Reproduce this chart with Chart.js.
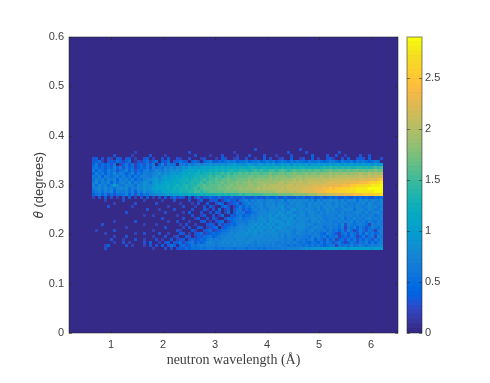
<!DOCTYPE html>
<html>
<head>
<meta charset="utf-8">
<style>
  html, body { margin: 0; background: #fff; }
  canvas { position: absolute; left: 0; top: 0; }
</style>
<script src="https://cdn.jsdelivr.net/npm/chart.js@4"></script>
</head>
<body>
<canvas id="map" width="490" height="383"></canvas>
<canvas id="bar" width="490" height="383"></canvas>
<script>
const xTicks = [1, 2, 3, 4, 5, 6];
const yTicks = [0, 0.1, 0.2, 0.3, 0.4, 0.5, 0.6];
const barTicks = [0, 0.5, 1, 1.5, 2, 2.5];
const xRange = [0.1923, 6.519];
const yRange = [0, 0.6];
const barMax = 2.9;

// bin centres of the first cell, and bin widths
const firstWavelength = 0.6635;
const wavelengthStep = 3 / 52;
const firstTheta = 0.37196;
const thetaStep = 0.6 * 3 / 296;

// one string per theta row, top row first. each char is intensity in tenths, base 36 (a = 1.0, t = 2.9)
const intensityRows = [
  "0000000000 0000000000 0000000000 0000000000 0000000000 0000300000 0000000003 0000000000 0000000000 0000000",
  "0000000000 0000200000 0000000000 0030000000 0000000200 0000000000 0000030000 0300000000 0030000000 0000000",
  "0000000300 0002000003 0000200000 0000300002 0003000020 0030000300 0200003000 0004000030 0300200003 0030000",
  "3403032043 0340200340 2003040032 0030002300 0204300230 0300200403 0023004002 3004020034 2003040034 3040003",
  "3452034354 2450132452 4504350345 4304530456 4354565645 5645564565 6456546565 5465565456 6546556465 6545650",
  "4635453602 4635245364 6047365506 6576787889 8989899a99 89a989a8a9 a89a9a8a9a 9a8a9a9a9a 9aa9a9a9a9 a9a8a9a",
  "5645354746 3645245463 7565768687 98a9a9abab bcbcbcbcbc cbcdcbcdcc cdcdcdcdcd dcdcdcdede dedededdee dedefef",
  "6465475635 5746354675 6876879898 aabbacbcbd cdcdcdedde eedefefeef fefgfefgff gfgfggfggh gghgghghhg hghhihh",
  "4756465857 6457465766 7897989a9a bbcbcdcdde deefefeffg fgfgggfggh gghhghhihh hihiihiiij ijijjijjjk jjkjkjk",
  "6574765675 7564657776 8979a9aaba ccbcddedef effefgfggg gghhghhhhi hiiiihiijj ijjjjjkjjk jkkkkkkkkl kklkllm",
  "5767576847 6757465788 9a89aaabbc cdcdedefef fgfgghgghh hhihiiiiij ijijjjjkjk jkkkkkklkl lllllmlmlm mmmnmop",
  "6857684757 7685767986 9a9abbbcbc dcdedefefg fgghghhhih iijiijjjjj jjkkjkkkkl kkllllllmm mmmmnmnnno oopqqrs",
  "7586757a86 6877587988 9babbcbcdc dedeeffgfg gghghhihii iijjijjkjk kkkkkllkll lllmmmmnmn nnnoooppqq qrrssst",
  "6786867578 7857687989 aabbbcbdcd dedefefggg gghhhihiij ijjjjkjkkk kkklklllll mmmmnnnoop oppqqqrrss ssttttt",
  "5675768476 6757476978 9a9bbbcccd ddeeffeffg gggghhhhhi iiiijjjjjj jkkkkklkll mmmmnnoopp ppqqqrrrss ssssttt",
  "4564635355 5746364657 78899a9aab bbcbccdcdd ddededeeef effffffggg gghhhhhiii iijjjkkkll lmmmnnnooo ppppqqr",
  "2030403020 3040203040 2030403524 3040352435 4353435343 5343534354 4534534354 5345345345 4534543545 4543545",
  "0000200000 3000000200 0002000300 0030024003 3402453425 6757687678 7678587878 7868586878 7868687858 7868768",
  "0000000200 0000300000 0300000002 0002030040 0354023452 5676778687 8687768788 7687878687 6877867677 8687678",
  "0000030000 0002000000 0000020000 3000200304 2004530246 4657678678 8789687788 8687786878 7868677687 6787867",
  "0000000000 0000000030 0020000300 0003000420 3050240356 3546768768 8879768978 7887686787 8667878578 7687668",
  "0000000000 0300000000 0000300000 2040003003 0430250465 6345677878 8798798678 8688768687 7768676787 6867786",
  "0000000000 0000000200 2000000020 0003002400 3025004356 4557678789 7989878978 8678787677 7687677676 7677567",
  "0000000000 0000000000 0003000000 3000240030 4200354567 5667689879 9878989688 7878878667 7768576867 6786767",
  "0000000200 0000300000 0000020030 0020003402 0345024566 6678788979 8998798878 8768787767 6676768576 7576576",
  "0003000000 0000000200 0200000002 0300200034 3052435467 7688989798 9789898788 8787677677 6758376567 6527676",
  "0000000000 0200000000 0000300000 2030043023 4503456678 7889798989 7998878788 8767877567 6657265746 5357657",
  "0200000300 0000000000 2000000032 0004200345 2345567778 8798989788 9788887678 7678676757 5646375247 5365267",
  "0000200000 0000200300 0030020004 3020345234 5456678788 8988978888 8878787687 7676765476 5325646536 4756457",
  "0000000200 0300000000 2000300230 0430243556 4567787888 8878888787 8878687767 6657675646 5624536524 6356276",
  "0000003000 2000300200 0302004023 4035345467 6767878788 8788787878 7877677576 6567465364 6245364635 4653657",
  "0000000200 3020000304 0020340345 2456354578 7678787878 7887687777 7667676765 6546546465 3564246536 5746467",
  "0000240000 0302000203 0304035404 5346567677 7677777877 7767677676 7676656566 5656565456 6265657567 6567678",
  "0000300000 0000000000 2000303034 3545556566 6565666566 6566656566 6667677778 8989999a9a aa9aa9aaaa aaa9aaa"
];

const parula = [
  [.2081,.1663,.5292],[.2116,.1898,.5777],[.2123,.2138,.6270],[.2081,.2386,.6771],
  [.1959,.2645,.7279],[.1707,.2919,.7792],[.1253,.3242,.8303],[.0591,.3598,.8683],
  [.0117,.3875,.8820],[.0060,.4086,.8828],[.0165,.4266,.8786],[.0329,.4430,.8720],
  [.0498,.4586,.8641],[.0629,.4737,.8554],[.0723,.4887,.8467],[.0779,.5040,.8384],
  [.0793,.5200,.8312],[.0749,.5375,.8263],[.0641,.5570,.8240],[.0488,.5772,.8228],
  [.0343,.5966,.8199],[.0265,.6137,.8135],[.0239,.6287,.8038],[.0231,.6418,.7913],
  [.0228,.6535,.7768],[.0267,.6642,.7607],[.0384,.6743,.7436],[.0590,.6838,.7254],
  [.0843,.6928,.7062],[.1133,.7015,.6859],[.1453,.7098,.6646],[.1801,.7177,.6424],
  [.2178,.7250,.6193],[.2586,.7317,.5954],[.3022,.7376,.5712],[.3482,.7424,.5473],
  [.3953,.7459,.5244],[.4420,.7481,.5033],[.4871,.7491,.4840],[.5300,.7491,.4661],
  [.5709,.7485,.4494],[.6099,.7473,.4337],[.6473,.7456,.4188],[.6834,.7435,.4044],
  [.7184,.7411,.3905],[.7525,.7384,.3768],[.7858,.7356,.3633],[.8185,.7327,.3498],
  [.8507,.7299,.3360],[.8824,.7274,.3217],[.9139,.7258,.3063],[.9450,.7261,.2886],
  [.9739,.7314,.2666],[.9938,.7455,.2403],[.9990,.7653,.2164],[.9955,.7861,.1967],
  [.9880,.8066,.1794],[.9789,.8271,.1633],[.9697,.8481,.1475],[.9626,.8705,.1309],
  [.9589,.8949,.1132],[.9598,.9218,.0948],[.9661,.9514,.0755],[.9763,.9831,.0538]
];

const inkColor = '#404040';
const tickFont = { family: '"Liberation Sans"', size: 11 };

function levelColor(i) {
  const c = parula[i];
  return 'rgb(' + Math.round(c[0] * 255) + ',' + Math.round(c[1] * 255) + ',' + Math.round(c[2] * 255) + ')';
}

function valueColor(v) {
  const i = Math.min(parula.length - 1, Math.floor(v / barMax * parula.length));
  return levelColor(i);
}

// turn the strings into scatter cells, zero cells are just the background
const cells = [];
intensityRows.forEach((row, r) => {
  row.replace(/ /g, '').split('').forEach((ch, c) => {
    const v = parseInt(ch, 36) / 10;
    if (v > 0) {
      cells.push({ x: firstWavelength + c * wavelengthStep, y: firstTheta - r * thetaStep, v: v });
    }
  });
});

function setTicks(values) {
  return scale => { scale.ticks = values.map(v => ({ value: v })); };
}

// matlab style: plot background, thin box, ticks pointing inwards
const framePlugin = {
  id: 'frame',
  beforeDatasetsDraw(chart, args, opts) {
    const a = chart.chartArea;
    chart.ctx.save();
    chart.ctx.fillStyle = levelColor(0);
    chart.ctx.fillRect(a.left, a.top, a.width, a.height);
    chart.ctx.restore();
    // the reference image is interpolated, so soften the cells a little
    if (opts.soften) chart.ctx.filter = 'blur(0.6px)';
  },
  afterDatasetsDraw(chart, args, opts) {
    const a = chart.chartArea;
    const ctx = chart.ctx;
    ctx.filter = 'none';
    ctx.save();
    ctx.strokeStyle = 'rgba(38,38,38,0.55)';
    ctx.lineWidth = 1;
    ctx.strokeRect(a.left, a.top, a.width, a.height);
    ctx.beginPath();
    if (opts.xAxis) {
      xTicks.forEach(v => {
        const x = Math.round(chart.scales.x.getPixelForValue(v)) + 0.5;
        ctx.moveTo(x, a.bottom); ctx.lineTo(x, a.bottom - 3);
        ctx.moveTo(x, a.top); ctx.lineTo(x, a.top + 3);
      });
    }
    opts.yValues.forEach(v => {
      const y = Math.round(chart.scales.y.getPixelForValue(v)) + 0.5;
      ctx.moveTo(a.left, y); ctx.lineTo(a.left + 3, y);
      ctx.moveTo(a.right, y); ctx.lineTo(a.right - 3, y);
    });
    ctx.stroke();
    ctx.restore();
  }
};

new Chart(document.getElementById('map'), {
  type: 'scatter',
  plugins: [framePlugin],
  data: {
    datasets: [{
      data: cells,
      pointStyle: 'rect',
      pointRadius: 2.13,
      pointBorderWidth: 0,
      pointBackgroundColor: ctx => valueColor(ctx.raw.v)
    }]
  },
  options: {
    responsive: false,
    animation: false,
    events: [],
    layout: { padding: { top: 37, right: 92 } },
    plugins: {
      legend: { display: false },
      tooltip: { enabled: false },
      frame: { xAxis: true, yValues: yTicks, soften: true }
    },
    scales: {
      x: {
        type: 'linear',
        min: xRange[0],
        max: xRange[1],
        afterBuildTicks: setTicks(xTicks),
        afterFit: scale => { scale.height = 50; },
        grid: { display: false, drawTicks: false },
        border: { display: false },
        ticks: { color: inkColor, font: tickFont, padding: 5, maxRotation: 0, callback: v => String(v) },
        title: {
          display: true,
          text: 'neutron wavelength (Å)',
          color: inkColor,
          font: { family: '"Liberation Serif"', size: 14 },
          padding: { top: 0, bottom: 14 }
        }
      },
      y: {
        min: yRange[0],
        max: yRange[1],
        afterBuildTicks: setTicks(yTicks),
        afterFit: scale => { scale.width = 69; },
        grid: { display: false, drawTicks: false },
        border: { display: false },
        ticks: { color: inkColor, font: tickFont, padding: 5, callback: v => String(v) },
        title: {
          display: true,
          text: '𝜃 (degrees)',
          color: inkColor,
          font: { family: '"Liberation Sans", "DejaVu Sans"', size: 13 },
          padding: { top: 32, bottom: 0 }
        }
      }
    }
  }
});

// colorbar, one floating bar per colormap level
new Chart(document.getElementById('bar'), {
  type: 'bar',
  plugins: [framePlugin],
  data: {
    labels: [''],
    datasets: parula.map((c, i) => ({
      data: [[i * barMax / parula.length, (i + 1) * barMax / parula.length]],
      backgroundColor: levelColor(i),
      borderWidth: 0,
      grouped: false,
      barPercentage: 1,
      categoryPercentage: 1
    }))
  },
  options: {
    responsive: false,
    animation: false,
    events: [],
    layout: { padding: { top: 37, bottom: 50, left: 407, right: 38 } },
    plugins: {
      legend: { display: false },
      tooltip: { enabled: false },
      frame: { xAxis: false, yValues: barTicks }
    },
    scales: {
      x: { display: false },
      y: {
        position: 'right',
        min: 0,
        max: barMax,
        afterBuildTicks: setTicks(barTicks),
        afterFit: scale => { scale.width = 30; },
        grid: { display: false, drawTicks: false },
        border: { display: false },
        ticks: { color: inkColor, font: tickFont, padding: 3, callback: v => String(v) }
      }
    }
  }
});
</script>
</body>
</html>
